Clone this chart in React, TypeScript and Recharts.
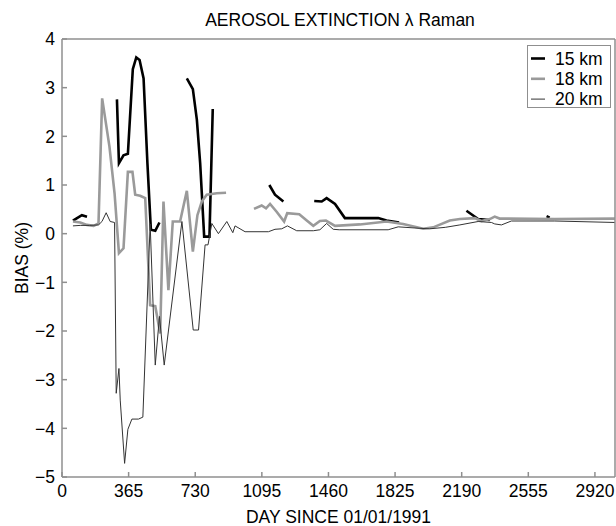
import { LineChart, Line, XAxis, YAxis } from "recharts";

const SERIES_NAMES = ["15 km", "18 km", "20 km"];
const DAY_TICKS = [0, 365, 730, 1095, 1460, 1825, 2190, 2555, 2920];
const BIAS_TICKS = [-5, -4, -3, -2, -1, 0, 1, 2, 3, 4];

// 15 km (null = gap in the record)
const days15 = [60, 109, 137, 200, 301, 312, 337, 361, 388, 407, 425, 447, 468, 487, 511, 534, 600, 684, 717, 739, 757, 779, 808, 826, 950, 1136, 1167, 1213, 1300, 1382, 1423, 1450, 1496, 1550, 1733, 1778, 1847, 2000, 2216, 2280, 2344, 2500, 2655, 2672];
const bias15 = [0.27, 0.38, 0.35, null, 2.76, 1.45, 1.61, 1.64, 3.38, 3.62, 3.57, 3.19, 1.45, 0.08, 0.06, 0.23, null, 3.19, 2.97, 2.34, 1.45, -0.06, -0.06, 2.56, null, 1.0, 0.8, 0.66, null, 0.67, 0.66, 0.73, 0.61, 0.32, 0.32, 0.27, 0.23, null, 0.47, 0.3, 0.28, null, 0.36, 0.33];

// 18 km
const days18 = [60, 100, 137, 173, 200, 220, 260, 288, 312, 337, 361, 386, 401, 428, 456, 483, 511, 538, 556, 583, 607, 647, 684, 717, 742, 766, 793, 848, 899, 975, 1052, 1094, 1118, 1140, 1176, 1217, 1234, 1300, 1341, 1377, 1413, 1446, 1496, 1632, 1778, 1869, 1979, 2034, 2125, 2180, 2262, 2298, 2344, 2371, 2398, 2700, 3030];
const bias18 = [0.25, 0.23, 0.18, 0.16, 0.21, 2.78, 1.79, 0.83, -0.4, -0.3, 1.27, 1.27, 0.8, 0.78, 0.73, -1.47, -1.49, -2.05, 0.66, -1.16, 0.25, 0.25, 0.88, -0.37, 0.38, 0.66, 0.8, 0.83, 0.84, null, 0.51, 0.58, 0.52, 0.61, 0.45, 0.25, 0.42, 0.4, 0.27, 0.16, 0.26, 0.27, 0.16, 0.19, 0.25, 0.2, 0.1, 0.13, 0.27, 0.3, 0.32, 0.26, 0.3, 0.35, 0.31, 0.3, 0.31];

// 20 km
const days20 = [60, 100, 150, 200, 219, 242, 264, 288, 297, 312, 319, 343, 361, 383, 419, 443, 483, 511, 534, 560, 657, 719, 748, 784, 800, 821, 857, 903, 936, 948, 1003, 1131, 1167, 1204, 1235, 1286, 1377, 1413, 1450, 1486, 1519, 1787, 1842, 1961, 2015, 2100, 2180, 2280, 2353, 2371, 2408, 2462, 2700, 3030];
const bias20 = [0.16, 0.17, 0.17, 0.18, 0.25, 0.43, 0.25, 0.23, -3.28, -2.77, -3.42, -4.72, -4.02, -3.81, -3.81, -3.77, 0.2, -2.7, -1.7, -2.7, 0.25, -1.98, -1.98, -0.23, -0.23, 0.21, 0.0, 0.25, 0.02, 0.16, 0.04, 0.04, 0.09, 0.1, 0.16, 0.06, 0.06, 0.08, 0.21, 0.09, 0.08, 0.08, 0.14, 0.11, 0.1, 0.13, 0.18, 0.25, 0.23, 0.2, 0.18, 0.26, 0.26, 0.23];

const toPoints = (days: number[], bias: (number | null)[]) =>
  days.map((day, i) => ({ day, bias: bias[i] }));

const FONT = "'Liberation Sans', Arial, sans-serif";
const AXIS_COLOR = "#8f8f8f";
const STYLES = [
  { stroke: "#000", width: 2.6 },
  { stroke: "#9a9a9a", width: 2.6 },
  { stroke: "#333", width: 1 },
];
const fmt = (v: number) => String(v).replace("-", "\u2212");

export default function App() {
  const series = [toPoints(days15, bias15), toPoints(days18, bias18), toPoints(days20, bias20)];
  const tickStyle = { fill: "#000", fontSize: 17.5, fontFamily: FONT };

  return (
    <div style={{ position: "absolute", left: 0, top: 0, width: 616, height: 526, background: "#fff" }}>
      <LineChart width={616} height={526} margin={{ top: 38, right: 0, bottom: 0, left: 22 }}>
        <XAxis
          dataKey="day"
          type="number"
          domain={[0, 3030]}
          ticks={DAY_TICKS}
          height={49}
          stroke={AXIS_COLOR}
          strokeWidth={1.5}
          tickSize={-5}
          tickMargin={13}
          tick={tickStyle}
          label={{ value: "DAY SINCE 01/01/1991", position: "insideBottom", offset: 3, fill: "#000", fontSize: 17.5, fontFamily: FONT }}
        />
        <XAxis
          xAxisId="top"
          orientation="top"
          type="number"
          domain={[0, 3030]}
          ticks={DAY_TICKS}
          height={1}
          stroke={AXIS_COLOR}
          strokeWidth={1.5}
          tickSize={-5}
          tick={false}
        />
        <YAxis
          type="number"
          domain={[-5, 4]}
          ticks={BIAS_TICKS}
          width={40}
          stroke={AXIS_COLOR}
          strokeWidth={1.5}
          tickSize={-5}
          tickMargin={12}
          tick={tickStyle}
          tickFormatter={fmt}
        />
        <YAxis
          yAxisId="right"
          orientation="right"
          type="number"
          domain={[-5, 4]}
          ticks={BIAS_TICKS}
          width={1}
          stroke={AXIS_COLOR}
          strokeWidth={1.5}
          tickSize={-5}
          tick={false}
        />
        {series.map((data, i) => (
          <Line
            key={SERIES_NAMES[i]}
            data={data}
            dataKey="bias"
            name={SERIES_NAMES[i]}
            type="linear"
            stroke={STYLES[i].stroke}
            strokeWidth={STYLES[i].width}
            dot={false}
            activeDot={false}
            isAnimationActive={false}
          />
        ))}
      </LineChart>
      <svg
        width={616}
        height={526}
        style={{ position: "absolute", left: 0, top: 0, pointerEvents: "none" }}
        fontFamily={FONT}
      >
        <text x={340} y={26} textAnchor="middle" fontSize={17.5} fill="#000">
          AEROSOL EXTINCTION λ Raman
        </text>
        <text x={28} y={258} textAnchor="middle" fontSize={17.5} fill="#000" transform="rotate(-90 28 258)">
          BIAS (%)
        </text>
        <rect x={527.5} y={45.5} width={83} height={62} fill="#fff" stroke={AXIS_COLOR} strokeWidth={1} />
        {SERIES_NAMES.map((name, i) => (
          <g key={name}>
            <line x1={531} x2={545} y1={58.5 + i * 20.3} y2={58.5 + i * 20.3} stroke={STYLES[i].stroke} strokeWidth={STYLES[i].width} />
            <text x={555} y={64.5 + i * 20.3} fontSize={17.5} fill="#000">
              {name}
            </text>
          </g>
        ))}
      </svg>
    </div>
  );
}
